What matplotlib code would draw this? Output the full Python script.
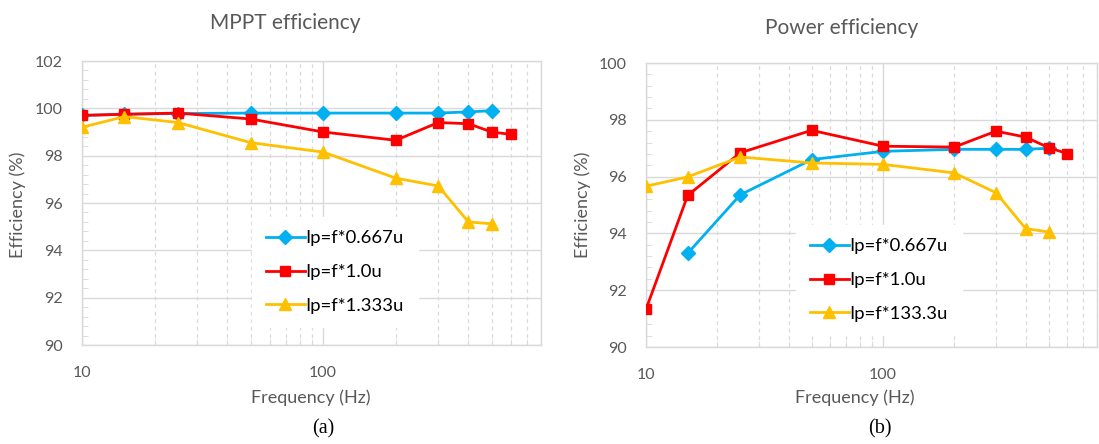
import matplotlib
matplotlib.use("Agg")
import matplotlib.pyplot as plt
from matplotlib.ticker import FixedLocator, NullFormatter, MultipleLocator, LogLocator

freq = [10, 15, 25, 50, 100, 200, 300, 400, 500, 600]

# (a) MPPT efficiency
mppt_blue_f = [10, 15, 25, 50, 100, 200, 300, 400, 500]
mppt_blue = [99.7, 99.75, 99.78, 99.8, 99.8, 99.8, 99.8, 99.85, 99.9]
mppt_red_f = freq
mppt_red = [99.7, 99.75, 99.8, 99.55, 99.0, 98.65, 99.4, 99.35, 99.0, 98.9]
mppt_yel_f = [10, 15, 25, 50, 100, 200, 300, 400, 500]
mppt_yel = [99.2, 99.65, 99.4, 98.55, 98.15, 97.05, 96.72, 95.2, 95.12]
mppt_labels = ["Ip=f*0.667u", "Ip=f*1.0u", "Ip=f*1.333u"]

# (b) Power efficiency
pow_blue_f = [15, 25, 50, 100, 200, 300, 400, 500]
pow_blue = [93.3, 95.36, 96.6, 96.89, 96.96, 96.96, 96.96, 97.0]
pow_red_f = freq
pow_red = [91.33, 95.34, 96.84, 97.63, 97.07, 97.04, 97.6, 97.39, 97.02, 96.81]
pow_yel_f = [10, 15, 25, 50, 100, 200, 300, 400, 500]
pow_yel = [95.66, 95.99, 96.69, 96.48, 96.43, 96.13, 95.43, 94.17, 94.05]
pow_labels = ["Ip=f*0.667u", "Ip=f*1.0u", "Ip=f*133.3u"]

x_ticks = [10, 100]
x_ticklabels = ["10", "100"]

BLUE = "#00B0F0"
RED = "#FF0000"
YEL = "#FFC000"
GRID = "#D9D9D9"
TXT = "#595959"

plt.rcParams['font.family'] = ['Lato', 'DejaVu Sans']

W, H = 1099, 444
fig = plt.figure(figsize=(W / 100, H / 100), dpi=100)


def make_ax(left, right, top, bottom):
    return fig.add_axes([left / W, 1 - bottom / H, (right - left) / W, (bottom - top) / H])


def ftext(x, y, s, **kw):
    fig.text(x / W, 1 - y / H, s, ha='center', va='center', **kw)


def style(ax, ymin, ymax, labels, series):
    ax.set_xscale('log')
    ax.set_xlim(10, 800)
    ax.set_ylim(ymin, ymax)
    ax.yaxis.set_major_locator(MultipleLocator(2))
    ax.yaxis.set_minor_locator(MultipleLocator(0.4))
    ax.xaxis.set_major_locator(FixedLocator(x_ticks))
    ax.xaxis.set_minor_locator(LogLocator(base=10, subs=range(2, 10)))
    ax.xaxis.set_minor_formatter(NullFormatter())
    ax.set_xticklabels(x_ticklabels)
    ax.grid(which='major', color=GRID, linewidth=1.0, linestyle='-')
    ax.grid(which='minor', axis='x', color=GRID, linewidth=0.9, linestyle=(0, (3, 3)))
    ax.set_axisbelow(True)
    for s in ax.spines.values():
        s.set_color(GRID)
        s.set_linewidth(1.0)
    ax.tick_params(which='major', length=0, labelsize=11.5, labelcolor=TXT)
    ax.tick_params(axis='x', which='major', pad=15)
    ax.tick_params(axis='y', which='major', pad=14)
    ax.tick_params(which='minor', direction='in', length=4, color=GRID)
    handles = []
    for (f, v, c, m, ms), lab in zip(series, labels):
        h, = ax.plot(f, v, color=c, marker=m, markersize=ms, linewidth=2.0,
                     label=lab, markeredgecolor=c, zorder=3)
        handles.append(h)
    return handles


def add_legend(ax, handles, x_left_px, y_center_px):
    leg = ax.legend(handles=handles, loc='center left',
                    bbox_to_anchor=(x_left_px / W, 1 - y_center_px / H),
                    bbox_transform=fig.transFigure, frameon=True,
                    fontsize=13.3, handlelength=2.1, handletextpad=0.05,
                    labelspacing=0.95, borderpad=0.75, fancybox=False,
                    borderaxespad=0)
    leg.get_frame().set_edgecolor('white')
    leg.get_frame().set_facecolor('white')
    leg.get_frame().set_alpha(1.0)
    return leg


axL = make_ax(82, 541, 61, 345)
hL = style(axL, 90, 102, mppt_labels, [
    (mppt_blue_f, mppt_blue, BLUE, 'D', 7),
    (mppt_red_f, mppt_red, RED, 's', 7),
    (mppt_yel_f, mppt_yel, YEL, '^', 9),
])
add_legend(axL, hL, 252, 272)

axR = make_ax(646, 1097, 63, 347)
hR = style(axR, 90, 100, pow_labels, [
    (pow_blue_f, pow_blue, BLUE, 'D', 7),
    (pow_red_f, pow_red, RED, 's', 7),
    (pow_yel_f, pow_yel, YEL, '^', 9),
])
add_legend(axR, hR, 796, 280)

# titles, axis labels, sub-captions
ftext(285, 23, "MPPT efficiency", fontsize=15, color=TXT)
ftext(842, 28, "Power efficiency", fontsize=15, color=TXT)
ftext(311, 398, "Frequency (Hz)", fontsize=13, color=TXT)
ftext(855, 398, "Frequency (Hz)", fontsize=13, color=TXT)
ftext(18, 205, "Efficiency (%)", fontsize=13, color=TXT, rotation=90)
ftext(583, 205, "Efficiency (%)", fontsize=13, color=TXT, rotation=90)
ftext(323, 429, "(a)", fontsize=14.5, color='black', family='Liberation Serif')
ftext(880, 429, "(b)", fontsize=14.5, color='black', family='Liberation Serif')

fig.savefig("out.png", dpi=100)
